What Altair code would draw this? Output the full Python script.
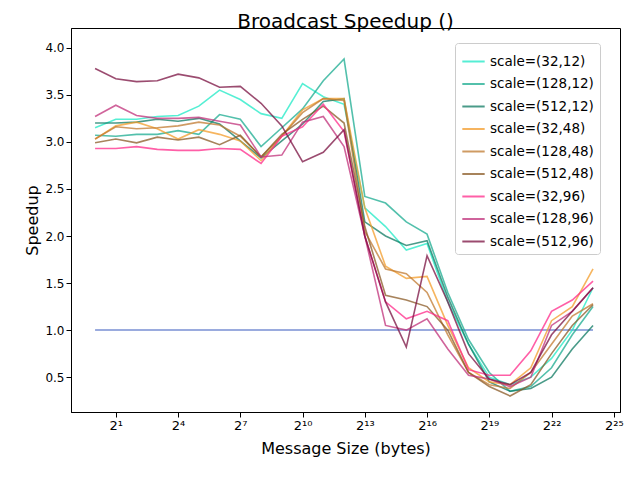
import altair as alt
import pandas as pd

exponents = list(range(25))
series = ["scale=(32,12)", "scale=(128,12)", "scale=(512,12)",
          "scale=(32,48)", "scale=(128,48)", "scale=(512,48)",
          "scale=(32,96)", "scale=(128,96)", "scale=(512,96)"]
colors = ["#1de9c6", "#1aab90", "#0e7a62", "#f39c2a", "#c07a30", "#8a5a25",
          "#ff2a8a", "#c0307a", "#7a1040"]

speedups = {
    "scale=(32,12)": [3.15, 3.24, 3.24, 3.27, 3.28, 3.38, 3.55, 3.45, 3.30, 3.25, 3.62, 3.48, 3.40,
                      2.30, 2.10, 1.85, 1.92, 1.30, 0.85, 0.50, 0.42, 0.50, 0.70, 1.00, 1.45],
    "scale=(128,12)": [3.07, 3.06, 3.08, 3.08, 3.12, 3.08, 3.29, 3.24, 2.95, 3.15, 3.35, 3.65, 3.88,
                       2.42, 2.35, 2.15, 2.02, 1.40, 0.90, 0.55, 0.35, 0.40, 0.60, 0.95, 1.25],
    "scale=(512,12)": [3.20, 3.20, 3.21, 3.24, 3.22, 3.25, 3.19, 3.01, 2.83, 3.01, 3.19, 3.43, 3.46,
                       2.15, 2.00, 1.90, 1.95, 1.35, 0.85, 0.45, 0.35, 0.38, 0.50, 0.80, 1.05],
    "scale=(32,48)": [3.03, 3.17, 3.21, 3.14, 3.03, 3.13, 3.08, 3.01, 2.80, 3.06, 3.34, 3.46, 3.46,
                      2.30, 1.68, 1.55, 1.57, 1.05, 0.60, 0.45, 0.42, 0.60, 1.10, 1.25, 1.65],
    "scale=(128,48)": [3.03, 3.16, 3.14, 3.15, 3.17, 3.21, 3.18, 3.06, 2.84, 3.06, 3.31, 3.46, 3.44,
                       2.05, 1.65, 1.60, 1.40, 0.95, 0.55, 0.42, 0.38, 0.55, 0.85, 1.15, 1.28],
    "scale=(512,48)": [2.99, 3.03, 2.99, 3.05, 3.02, 3.05, 2.97, 3.07, 2.84, 3.08, 3.24, 3.38, 3.20,
                       2.10, 1.37, 1.32, 1.25, 1.00, 0.55, 0.40, 0.30, 0.42, 0.75, 1.05, 1.27],
    "scale=(32,96)": [2.93, 2.93, 2.95, 2.92, 2.91, 2.91, 2.93, 2.92, 2.77, 3.06, 3.16, 3.40, 3.11,
                      2.00, 1.30, 1.12, 1.20, 1.10, 0.58, 0.52, 0.52, 0.78, 1.20, 1.32, 1.52],
    "scale=(128,96)": [3.27, 3.39, 3.28, 3.25, 3.25, 3.26, 3.22, 3.18, 2.84, 2.86, 3.21, 3.27, 2.95,
                       2.00, 1.05, 1.00, 1.12, 0.80, 0.52, 0.48, 0.40, 0.50, 1.05, 1.20, 1.45],
    "scale=(512,96)": [3.78, 3.67, 3.64, 3.65, 3.72, 3.68, 3.58, 3.59, 3.41, 3.17, 2.79, 2.89, 3.13,
                       2.00, 1.30, 0.82, 1.79, 1.30, 0.75, 0.48, 0.42, 0.55, 0.95, 1.20, 1.45],
}

tick_values = [1, 4, 7, 10, 13, 16, 19, 22, 25]
tick_labels = ["2¹", "2⁴", "2⁷", "2¹⁰", "2¹³", "2¹⁶", "2¹⁹", "2²²", "2²⁵"]

rows = []
for s in series:
    for e, v in zip(exponents, speedups[s]):
        rows.append({"exp": e, "speedup": v, "series": s})
df = pd.DataFrame(rows)

label_expr = "''"
for v, l in zip(tick_values, tick_labels):
    label_expr = f"datum.value == {v} ? '{l}' : ({label_expr})"

x_enc = alt.X("exp:Q", scale=alt.Scale(domain=[-1.16, 25.3], nice=False, zero=False),
              axis=alt.Axis(values=tick_values, labelExpr=label_expr, title="Message Size (bytes)",
                            grid=False, titleFontSize=16, titleFontWeight="normal",
                            labelFontSize=13, titlePadding=8))
y_enc = alt.Y("speedup:Q", scale=alt.Scale(domain=[0.13, 4.21], nice=False, zero=False),
              axis=alt.Axis(values=[0.5, 1.0, 1.5, 2.0, 2.5, 3.0, 3.5, 4.0], format=".1f",
                            title="Speedup", grid=False, titleFontSize=16,
                            titleFontWeight="normal", labelFontSize=12))

lines = alt.Chart(df).mark_line(strokeWidth=1.6, opacity=0.75).encode(
    x=x_enc, y=y_enc,
    color=alt.Color("series:N", sort=series,
                    scale=alt.Scale(domain=series, range=colors),
                    legend=alt.Legend(title=None, orient="none", legendX=384, legendY=15,
                                      symbolType="stroke", symbolStrokeWidth=2, symbolSize=500,
                                      labelFontSize=13.5, rowPadding=3.5, padding=6,
                                      fillColor="white", strokeColor="#cccccc",
                                      cornerRadius=3)),
    detail="series:N",
)

base_df = pd.DataFrame({"exp": [0, 24], "speedup": [1.0, 1.0]})
baseline = alt.Chart(base_df).mark_line(color="#4060c0", opacity=0.7, strokeWidth=1.5).encode(
    x="exp:Q", y="speedup:Q")

chart = alt.layer(baseline, lines).properties(
    width=549, height=384,
    title=alt.Title("Broadcast Speedup ()", fontSize=20, fontWeight="normal", offset=-4),
    autosize=alt.AutoSizeParams(type="none"),
    padding={"left": 63, "top": 20, "right": 4, "bottom": 60},
).configure(font="DejaVu Sans").configure_view(stroke="black", strokeWidth=1).configure_axis(
    domainColor="black", tickColor="black", labelColor="black", titleColor="black")

chart.save("out.html", embed_options={"renderer": "svg", "actions": False})
